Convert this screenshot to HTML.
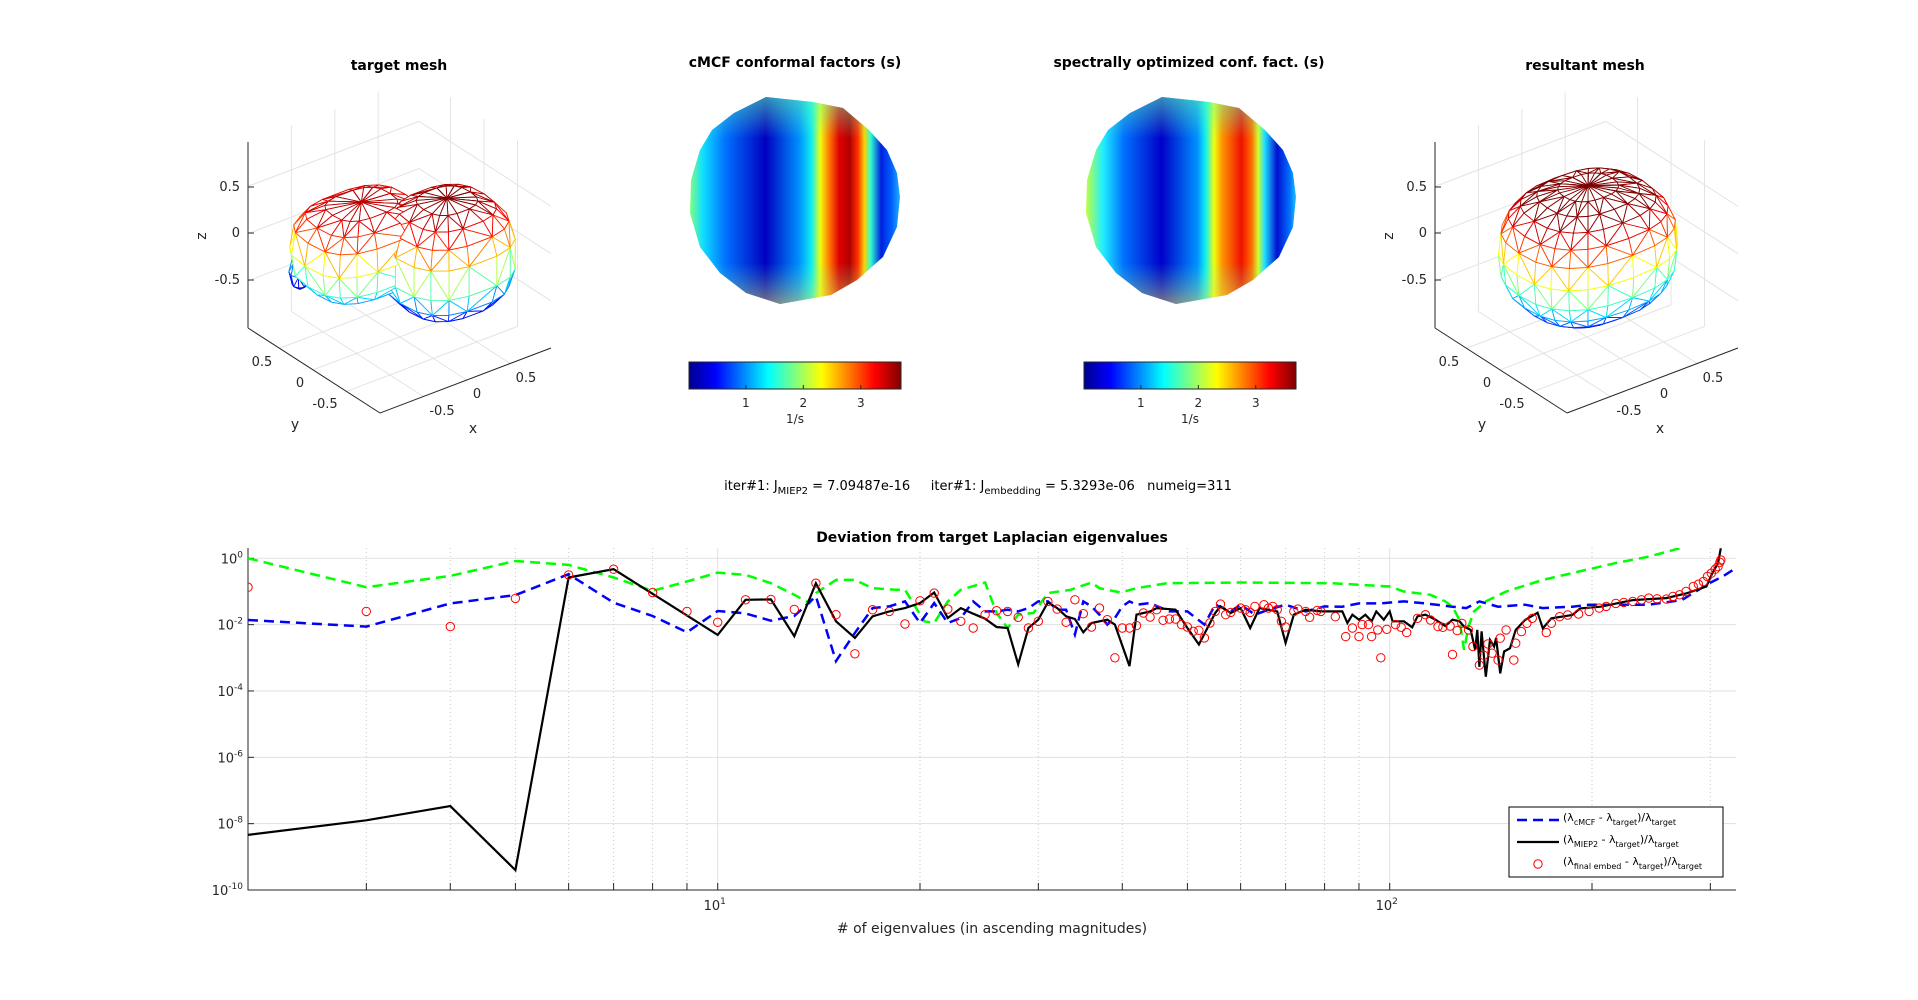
<!DOCTYPE html>
<html><head><meta charset="utf-8"><style>
html,body{margin:0;padding:0;background:#fff;}
svg{display:block;font-family:"DejaVu Sans","Liberation Sans",sans-serif;}
</style></head><body>
<svg id="fig" width="1918" height="1000" viewBox="0 0 1918 1000" xmlns="http://www.w3.org/2000/svg">
<defs>
<linearGradient id="jet" x1="0" x2="1" y1="0" y2="0">
<stop offset="0" stop-color="#00008f"/><stop offset="0.125" stop-color="#0000ff"/><stop offset="0.375" stop-color="#00ffff"/><stop offset="0.625" stop-color="#ffff00"/><stop offset="0.875" stop-color="#ff0000"/><stop offset="1" stop-color="#800000"/>
</linearGradient>
<linearGradient id="disc1g" gradientUnits="userSpaceOnUse" x1="690" x2="900" y1="0" y2="0">
<stop offset="0" stop-color="#7fff80"/><stop offset="0.06" stop-color="#10e0ff"/><stop offset="0.17" stop-color="#0070ff"/><stop offset="0.36" stop-color="#0000c0"/><stop offset="0.52" stop-color="#0090ff"/><stop offset="0.58" stop-color="#10f0f0"/><stop offset="0.62" stop-color="#f0ff10"/><stop offset="0.66" stop-color="#ff8000"/><stop offset="0.71" stop-color="#e00000"/><stop offset="0.76" stop-color="#b00000"/><stop offset="0.8" stop-color="#ff3000"/><stop offset="0.83" stop-color="#ffd000"/><stop offset="0.86" stop-color="#30ffd0"/><stop offset="0.91" stop-color="#0020e0"/><stop offset="0.96" stop-color="#0060ff"/><stop offset="1" stop-color="#20b0ff"/>
</linearGradient>
<linearGradient id="disc2g" gradientUnits="userSpaceOnUse" x1="1086" x2="1296" y1="0" y2="0">
<stop offset="0" stop-color="#c0ff40"/><stop offset="0.08" stop-color="#20f0ff"/><stop offset="0.18" stop-color="#0070ff"/><stop offset="0.36" stop-color="#0000c8"/><stop offset="0.53" stop-color="#0090ff"/><stop offset="0.57" stop-color="#10f0f0"/><stop offset="0.61" stop-color="#f0ff10"/><stop offset="0.65" stop-color="#ff9000"/><stop offset="0.74" stop-color="#f01000"/><stop offset="0.79" stop-color="#ff7000"/><stop offset="0.82" stop-color="#d0ff30"/><stop offset="0.85" stop-color="#20e0ff"/><stop offset="0.91" stop-color="#0010d0"/><stop offset="0.97" stop-color="#0070ff"/><stop offset="1" stop-color="#20c0ff"/>
</linearGradient>
<linearGradient id="discshade" x1="0" x2="0" y1="0" y2="1">
<stop offset="0" stop-color="#60ffb0" stop-opacity="0.55"/><stop offset="0.2" stop-color="#60ffb0" stop-opacity="0"/><stop offset="0.8" stop-color="#60ffb0" stop-opacity="0"/><stop offset="1" stop-color="#ffe040" stop-opacity="0.5"/>
</linearGradient>
<clipPath id="plotclip"><rect x="248" y="548" width="1488" height="343"/></clipPath>
</defs>
</svg>
<script>
// ===== chart data (index of eigenvalue, log10 of relative deviation) =====
const cmcfIdx = [2,3,4,5,6,7,8,9,10,11,12,13,14,15,16,17,18,19,20,21,22,23,24,25,26,27,28,29,30,31,32,33,34,35,36,37,38,39,40,41,42,44,47,50,53,55,58,60,63,66,70,75,80,85,90,97,105,113,124,130,136,145,159,169,187,198,220,243,272,299,313,327];
const cmcfLog = [-1.86,-2.06,-1.36,-1.11,-0.48,-1.34,-1.74,-2.23,-1.59,-1.66,-1.88,-1.74,-1.15,-3.1,-2.25,-1.5,-1.45,-1.3,-1.95,-1.35,-1.95,-1.8,-1.3,-1.6,-1.6,-1.55,-1.6,-1.5,-1.3,-1.3,-1.55,-1.55,-2.3,-1.3,-1.45,-1.7,-2.0,-1.8,-1.45,-1.3,-1.4,-1.35,-1.6,-1.6,-2.0,-1.4,-1.6,-1.4,-1.7,-1.55,-1.4,-1.6,-1.45,-1.46,-1.36,-1.36,-1.3,-1.36,-1.46,-1.5,-1.3,-1.46,-1.4,-1.5,-1.46,-1.4,-1.4,-1.4,-1.26,-0.75,-0.55,-0.3];
const greenIdx = [2,3,4,5,6,7,8,9,10,11,12,13,13.7,14,15,16,17,18.4,19,20.3,21,22,23,25,26,27,28,29.5,31,33.5,36,37,39.8,42,46.6,60,82,100,105,115,121,124,127,129,131,133.5,139,149,169,191,216,243,270];
const greenLog = [0,-0.87,-0.53,-0.08,-0.2,-0.58,-0.98,-0.70,-0.43,-0.5,-0.75,-1.1,-1.35,-1.05,-0.65,-0.65,-0.9,-0.95,-0.95,-1.9,-1.95,-1.3,-0.95,-0.73,-1.65,-2.1,-1.7,-1.65,-1.05,-0.95,-0.73,-0.9,-1.03,-0.9,-0.75,-0.73,-0.75,-0.85,-1.0,-1.1,-1.3,-1.46,-1.86,-2.76,-2.06,-1.6,-1.3,-1.0,-0.65,-0.4,-0.15,0.05,0.3];
const miepIdx = [2,3,4,5,6,7,10,11,12,13,14,15,16,17,18,19,20,21,22,23,24,25,26,27,28,29,30,31,32,33,34,35,36,38,39,41,42,44,45,48,50,52,55,56,58,60,62,64,68,70,72,75,79,85,86.5,88,90,92,94,95.5,98,100,101,105,108,110,113,117,121,124,127,129,132,134,135,136,137,139,141,143,144,146,148,151,154,159,166,169,174,187,192,206,230,258,276,296,302,308,311];
const miepLog = [-8.34,-7.9,-7.47,-9.40,-0.58,-0.33,-2.31,-1.25,-1.24,-2.35,-0.75,-1.9,-2.4,-1.75,-1.6,-1.5,-1.35,-1.03,-1.8,-1.5,-1.67,-1.82,-2.07,-2.1,-3.2,-2.1,-1.85,-1.33,-1.5,-1.75,-1.83,-2.23,-1.95,-1.85,-2.0,-3.25,-1.7,-1.6,-1.5,-1.55,-2.1,-2.6,-1.65,-1.45,-1.65,-1.5,-2.1,-1.5,-1.6,-2.55,-1.7,-1.55,-1.6,-1.6,-1.95,-1.7,-1.85,-1.7,-1.9,-1.6,-1.85,-1.6,-1.9,-1.9,-2.08,-1.75,-1.7,-1.85,-2.04,-1.85,-1.9,-2.06,-2.16,-2.76,-2.16,-3.27,-2.2,-3.57,-2.46,-2.66,-2.4,-3.47,-2.81,-2.71,-2.16,-1.86,-1.64,-2.11,-1.81,-1.71,-1.51,-1.46,-1.26,-1.2,-1.06,-0.85,-0.45,-0.15,0.3];
const finalIdx = [2,3,4,5,6,7,8,9,10,11,12,13,14,15,16,17,18,19,20,21,22,23,24,25,26,27,28,29,30,31,32,33,34,35,36,37,38,39,40,41,42,43,44,45,46,47,48,49,50,51,52,53,54,55,56,57,58,60,61,62,63,65,66,67,68,69,70,72,73,75,76,78,79,83,86,88,90,91,93,94,96,97,99,102,104,106,110,113,115,118,120,123,124,126,128,131,133,136,138,140,142,145,146,149,153,154,157,160,163,171,174,179,184,191,198,205,210,217,223,230,237,243,250,258,264,270,276,283,288,293,297,301,305,308,310,311];
const finalLog = [-0.87,-1.60,-2.06,-1.21,-0.5,-0.33,-1.03,-1.60,-1.93,-1.25,-1.24,-1.54,-0.75,-1.7,-2.88,-1.55,-1.6,-1.98,-1.28,-1.05,-1.53,-1.9,-2.1,-1.7,-1.58,-1.6,-1.78,-2.1,-1.9,-1.3,-1.53,-1.93,-1.25,-1.67,-2.07,-1.5,-1.85,-3.0,-2.1,-2.1,-2.03,-1.65,-1.77,-1.55,-1.87,-1.83,-1.83,-2.0,-2.07,-2.2,-2.17,-2.4,-1.95,-1.6,-1.38,-1.7,-1.63,-1.5,-1.55,-1.63,-1.45,-1.4,-1.5,-1.45,-1.55,-1.9,-2.07,-1.6,-1.53,-1.6,-1.78,-1.57,-1.6,-1.76,-2.36,-2.1,-2.36,-2.0,-2.0,-2.36,-2.16,-3.0,-2.14,-2.0,-2.08,-2.24,-1.81,-1.7,-1.86,-2.06,-2.08,-2.04,-2.9,-2.18,-1.96,-2.16,-2.66,-3.22,-2.92,-2.58,-2.86,-3.07,-2.41,-2.16,-3.07,-2.56,-2.21,-1.96,-1.81,-2.24,-1.96,-1.76,-1.71,-1.68,-1.6,-1.5,-1.45,-1.36,-1.33,-1.3,-1.25,-1.2,-1.22,-1.23,-1.15,-1.1,-1.0,-0.85,-0.78,-0.7,-0.55,-0.45,-0.33,-0.25,-0.12,-0.05];
const yTickExp = [0,-2,-4,-6,-8,-10];
const xMajorTicks = [10,100];
const xMinorTicks = [3,4,5,6,7,8,9,20,30,40,50,60,70,80,90,200,300];
const cbarTicks = [1,2,3];

const NS = "http://www.w3.org/2000/svg";
const svg = document.getElementById('fig');
function mk(tag, attrs, parent){ const e=document.createElementNS(NS,tag); for(const k in attrs) e.setAttribute(k, attrs[k]); (parent||svg).appendChild(e); return e; }

const X0=248, XDEC=672, Y0=558.3, YDEC=33.17;
function xs(i){ return X0 + XDEC*Math.log10(i/2); }
function ys(l){ return Y0 - YDEC*l; }

function jet(t){ t=Math.max(0,Math.min(1,t));
  const r=Math.max(0,Math.min(1,1.5-Math.abs(4*t-3))), g=Math.max(0,Math.min(1,1.5-Math.abs(4*t-2))), b=Math.max(0,Math.min(1,1.5-Math.abs(4*t-1)));
  return 'rgb('+Math.round(r*255)+','+Math.round(g*255)+','+Math.round(b*255)+')'; }

function txt(x,y,s,opts,name){ const e=mk('text',Object.assign({x:x,y:y,'text-anchor':'middle','font-size':13,fill:'#262626'},opts||{})); e.textContent=s;
  
  
  return e; }
txt(399,70,'target mesh',{'font-weight':'bold','font-size':14,fill:'#000'},'title-target-mesh');
txt(795,67,'cMCF conformal factors (s)',{'font-weight':'bold','font-size':14,fill:'#000'},'title-cmcf-factors');
txt(1189,67,'spectrally optimized conf. fact. (s)',{'font-weight':'bold','font-size':14,fill:'#000'},'title-spectral-factors');
txt(1585,70,'resultant mesh',{'font-weight':'bold','font-size':14,fill:'#000'},'title-resultant-mesh');

function proj(x,y,z,dx){ const u=(x+1)/1.97, v=(y+1)/1.97, w=(z+1)/1.97; return [380+dx+171*u-132*v, 413-65*u-85*v-186*w, u+v-0.8*w]; }
function drawAxes3d(dx, prefix){
  const g=mk('g',{});
  
  
  const tv=[-0.5,0,0.5], gc='#e3e3e3';
  const L=(a,b,c)=>mk('line',{x1:a[0],y1:a[1],x2:b[0],y2:b[1],stroke:c||gc,'stroke-width':1},g);
  const lo=-1, hi=0.97;
  tv.forEach(t=>{
    L(proj(t,hi,lo,dx),proj(t,hi,hi,dx)); L(proj(lo,hi,t,dx),proj(hi,hi,t,dx));
    L(proj(hi,t,lo,dx),proj(hi,t,hi,dx)); L(proj(hi,lo,t,dx),proj(hi,hi,t,dx));
    L(proj(t,lo,lo,dx),proj(t,hi,lo,dx)); L(proj(lo,t,lo,dx),proj(hi,t,lo,dx));
  });
  const ac='#262626';
  L(proj(lo,hi,lo,dx),proj(lo,hi,hi,dx),ac);
  L(proj(lo,lo,lo,dx),proj(hi,lo,lo,dx),ac);
  L(proj(lo,lo,lo,dx),proj(lo,hi,lo,dx),ac);
  [['0.5',187],['0',233],['-0.5',280]].forEach(z=>{ const e=txt(240+dx,z[1]+4,z[0],{'text-anchor':'end'},prefix+'-z-tick-label'); g.appendChild(e); L([248+dx,z[1]],[254+dx,z[1]],ac); });
  [['0.5',262,366],['0',300,387],['-0.5',325,408]].forEach(t=>{ g.appendChild(txt(t[1]+dx,t[2],t[0],{},prefix+'-y-tick-label')); });
  [['-0.5',442,415],['0',477,398],['0.5',526,382]].forEach(t=>{ g.appendChild(txt(t[1]+dx,t[2],t[0],{},prefix+'-x-tick-label')); });
  g.appendChild(txt(295+dx,429,'y',{'font-size':14},prefix+'-y-axis-title'));
  g.appendChild(txt(473+dx,433,'x',{'font-size':14},prefix+'-x-axis-title'));
  g.appendChild(txt(206+dx,236,'z',{'font-size':14,transform:'rotate(-90 '+(206+dx)+' 236)'},prefix+'-z-axis-title'));
}
function ellipsoid(cx,cy,cz,rx,ry,rz,nl,nm,pw){
  const P=[]; const e=pw||1;
  const sp=(v)=>Math.sign(v)*Math.pow(Math.abs(v),e);
  for(let i=0;i<=nl;i++){ const th=Math.PI*i/nl; const row=[];
    for(let j=0;j<nm;j++){ const ph=2*Math.PI*j/nm;
      row.push([cx+rx*sp(Math.sin(th))*sp(Math.cos(ph)), cy+ry*sp(Math.sin(th))*sp(Math.sin(ph)), cz+rz*sp(Math.cos(th))]); }
    P.push(row); }
  const T=[];
  for(let i=0;i<nl;i++) for(let j=0;j<nm;j++){ const a=P[i][j],b=P[i][(j+1)%nm],c=P[i+1][j],d=P[i+1][(j+1)%nm];
    if((i+j)%2){ T.push([a,b,d]); T.push([a,d,c]); } else { T.push([a,b,c]); T.push([b,d,c]); } }
  return T;
}
function drawMesh(tris,dx,zmin,zmax,name){
  const g=mk('g',{});
  
  
  const items=tris.map(t=>{ const p=t.map(q=>proj(q[0],q[1],q[2],dx)); const zc=(t[0][2]+t[1][2]+t[2][2])/3; return {p:p,d:(p[0][2]+p[1][2]+p[2][2])/3,z:zc}; });
  items.sort((a,b)=>b.d-a.d);
  items.forEach(it=>{ const tri=mk('polygon',{points:it.p.map(q=>q[0].toFixed(1)+','+q[1].toFixed(1)).join(' '),fill:'#fff',stroke:jet((it.z-zmin)/(zmax-zmin)),'stroke-width':0.9,'stroke-linejoin':'round'},g);
    
     });
}
drawAxes3d(0,'target-mesh');
let tTris=[].concat(
  ellipsoid(-0.25,0.25,-0.05,0.65,0.5,0.45,8,18,0.7),
  ellipsoid(0.35,-0.25,-0.12,0.6,0.55,0.58,9,18,0.75),
  ellipsoid(-0.55,0.78,-0.48,0.1,0.1,0.18,4,8));
drawMesh(tTris,0,-0.7,0.45,'target-mesh-surface');
drawAxes3d(1187,'resultant-mesh');
let rTris=ellipsoid(0.0,-0.02,-0.05,0.82,0.68,0.66,12,24,0.8);
drawMesh(rTris,1187,-0.75,0.5,'resultant-mesh-surface');

function disc(dx,grad,name){
  const pts=[[766,97],[813,102],[843,108],[869,130],[887,150],[897,173],[900,197],[897,227],[883,257],[857,280],[831,295],[780,304],[746,293],[720,273],[700,247],[690,213],[691,180],[700,150],[712,130],[734,113]];
  const s=pts.map(q=>(q[0]+dx)+','+q[1]).join(' ');
  const p=mk('polygon',{points:s,fill:'url(#'+grad+')'});
  
  
  const sh=mk('polygon',{points:s,fill:'url(#discshade)'});
  
  
}
disc(0,'disc1g','cmcf-factor-disc');
disc(396,'disc2g','spectral-factor-disc');
function cbar(x,name){
  const r=mk('rect',{x:x,y:362,width:212,height:27,fill:'url(#jet)',stroke:'#262626','stroke-width':1});
  
  
  cbarTicks.forEach(v=>{ const tx=x+212*(v-0.01)/3.69; const l=mk('line',{x1:tx,y1:389,x2:tx,y2:385,stroke:'#262626'});
    
    
    txt(tx,407,String(v),{'font-size':12},name+'-tick-label'); });
  txt(x+106,423,'1/s',{'font-size':12},name+'-label');
}
cbar(689,'cmcf-colorbar');
cbar(1084,'spectral-colorbar');

const ann=mk('text',{x:978,y:490,'text-anchor':'middle','font-size':13,fill:'#000'});


ann.innerHTML='iter#1: J<tspan dy="4" font-size="10">MIEP2</tspan><tspan dy="-4"> = 7.09487e-16 \u00a0\u00a0\u00a0\u00a0iter#1: J</tspan><tspan dy="4" font-size="10">embedding</tspan><tspan dy="-4"> = 5.3293e-06 \u00a0\u00a0numeig=311</tspan>';

txt(992,542,'Deviation from target Laplacian eigenvalues',{'font-weight':'bold','font-size':14,fill:'#000'},'chart-title');
const grid=mk('g',{});


yTickExp.forEach(e=>{ if(e>-10){ mk('line',{x1:248,x2:1736,y1:ys(e),y2:ys(e),stroke:'#e1e1e1'},grid); } });
xMajorTicks.forEach(v=>{ mk('line',{x1:xs(v),x2:xs(v),y1:548,y2:890,stroke:'#e1e1e1'},grid); });
xMinorTicks.forEach(v=>{ mk('line',{x1:xs(v),x2:xs(v),y1:548,y2:890,stroke:'#c8c8c8','stroke-dasharray':'1 3'},grid); });
const ax=mk('g',{});


mk('line',{x1:248,x2:248,y1:548,y2:890.5,stroke:'#262626'},ax);
mk('line',{x1:248,x2:1736,y1:890,y2:890,stroke:'#262626'},ax);
yTickExp.forEach(e=>{ mk('line',{x1:248,x2:254,y1:ys(e),y2:ys(e),stroke:'#262626'},ax);
  const t=mk('text',{x:243,y:ys(e)+5,'text-anchor':'end','font-size':13,fill:'#262626'});
  
  
  t.innerHTML='10<tspan dy="-6" font-size="9">'+e+'</tspan>'; });
xMajorTicks.concat(xMinorTicks).forEach(v=>{ mk('line',{x1:xs(v),x2:xs(v),y1:890,y2:883,stroke:'#262626'},ax); });
xMajorTicks.forEach(v=>{ const t=mk('text',{x:xs(v)-3,y:910,'text-anchor':'middle','font-size':13,fill:'#262626'});
  
  
  t.innerHTML='10<tspan dy="-6" font-size="9">'+Math.round(Math.log10(v))+'</tspan>'; });
txt(992,933,'# of eigenvalues (in ascending magnitudes)',{'font-size':14},'x-axis-title');

const plot=mk('g',{'clip-path':'url(#plotclip)'});


function path(idx,vals){ let d=''; const n=Math.min(idx.length,vals.length); for(let i=0;i<n;i++){ d+=(i?'L':'M')+xs(idx[i]).toFixed(1)+','+ys(vals[i]).toFixed(1); } return d; }
const gl=mk('path',{d:path(greenIdx,greenLog),fill:'none',stroke:'#00ff00','stroke-width':2.5,'stroke-dasharray':'10 6'},plot);


const bl=mk('path',{d:path(cmcfIdx,cmcfLog),fill:'none',stroke:'#0000ff','stroke-width':2.5,'stroke-dasharray':'10 6'},plot);


const kl=mk('path',{d:path(miepIdx,miepLog),fill:'none',stroke:'#000','stroke-width':2.2},plot);


for(let i=0;i<Math.min(finalIdx.length,finalLog.length);i++){
  const c=mk('circle',{cx:xs(finalIdx[i]).toFixed(1),cy:ys(finalLog[i]).toFixed(1),r:4.2,fill:'none',stroke:'#ff0000','stroke-width':1},plot);
  
  
}

const lg=mk('g',{});


mk('rect',{x:1509,y:807,width:214,height:70,fill:'#fff',stroke:'#000','stroke-width':1},lg);
const e1=mk('line',{x1:1517,x2:1559,y1:820,y2:820,stroke:'#0000ff','stroke-width':2.5,'stroke-dasharray':'10 6'},lg);


const e2=mk('line',{x1:1517,x2:1559,y1:842,y2:842,stroke:'#000','stroke-width':2.2},lg);


const e3=mk('circle',{cx:1538,cy:864,r:4.2,fill:'none',stroke:'#ff0000'},lg);


function legText(y,sub,name){ const t=mk('text',{x:1563,y:y,'font-size':11,fill:'#000'},lg);
  
  
  t.innerHTML='(\u03bb<tspan dy="4" font-size="8">'+sub+'</tspan><tspan dy="-4"> - \u03bb</tspan><tspan dy="4" font-size="8">target</tspan><tspan dy="-4">)/\u03bb</tspan><tspan dy="4" font-size="8">target</tspan>'; }
legText(821,'cMCF','legend-cmcf-label');
legText(843,'MIEP2','legend-miep2-label');
legText(865,'final embed','legend-final-label');
</script>
</body></html>
